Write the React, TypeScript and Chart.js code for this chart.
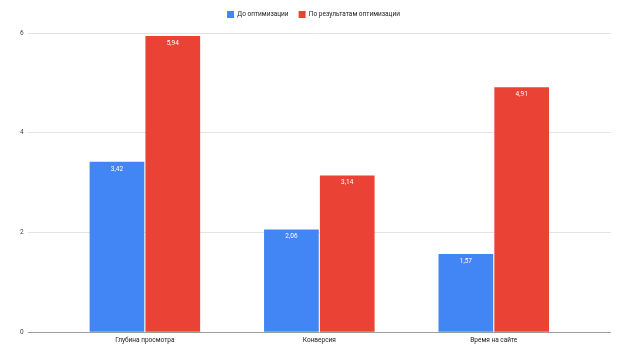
import React, { useEffect, useRef } from "react";
import { Chart, registerables } from "chart.js";

Chart.register(...registerables);

const categories = ["Глубина просмотра", "Конверсия", "Время на сайте"];
const beforeValues = [3.42, 2.06, 1.57];
const afterValues = [5.94, 3.14, 4.91];
const seriesNames = ["До оптимизации", "По результатам оптимизации"];
const yTicks = [0, 2, 4, 6];

const FONT = "Roboto, Arial, sans-serif";

const labelPlugin = {
  id: "barLabels",
  afterDatasetsDraw(chart: any) {
    const ctx = chart.ctx;
    ctx.save();
    ctx.fillStyle = "#ffffff";
    ctx.font = `6.5px ${FONT}`;
    ctx.textAlign = "center";
    ctx.textBaseline = "top";
    chart.data.datasets.forEach((ds: any, i: number) => {
      const meta = chart.getDatasetMeta(i);
      meta.data.forEach((bar: any, j: number) => {
        const v = ds.data[j] as number;
        ctx.fillText(v.toFixed(2).replace(".", ","), bar.x, bar.y + 4);
      });
    });
    ctx.restore();
  },
};

const legendMargin = {
  id: "legendMargin",
  beforeInit(chart: any) {
    const legend = chart.legend;
    if (!legend) return;
    const origFit = legend.fit;
    legend.fit = function () {
      origFit.call(this);
      this.height += 5;
    };
  },
};

const gridColor = (c: any) => (c.tick && c.tick.value === 0 ? "#9e9e9e" : "#e3e3e3");

export default function App() {
  const ref = useRef<HTMLCanvasElement>(null);
  useEffect(() => {
    if (!ref.current) return;
    const chart = new Chart(ref.current, {
      type: "bar",
      data: {
        labels: categories,
        datasets: [
          {
            label: seriesNames[0],
            data: beforeValues,
            backgroundColor: "#4285F4",
            barPercentage: 0.98,
            categoryPercentage: 0.64,
          },
          {
            label: seriesNames[1],
            data: afterValues,
            backgroundColor: "#EA4335",
            barPercentage: 0.98,
            categoryPercentage: 0.64,
          },
        ],
      },
      options: {
        animation: false,
        responsive: false,
        maintainAspectRatio: false,
        layout: { padding: { left: 16, right: 15, top: 1, bottom: 8 } },
        plugins: {
          legend: {
            position: "top",
            align: "center",
            labels: {
              boxWidth: 7,
              boxHeight: 7,
              padding: 10,
              color: "#222",
              font: { family: FONT, size: 6.5 },
            },
          },
          tooltip: { enabled: false },
        },
        scales: {
          x: {
            grid: { display: false, drawTicks: false },
            border: { display: false },
            ticks: { color: "#222", font: { family: FONT, size: 6.5 }, padding: 4 },
          },
          y: {
            min: 0,
            max: 6,
            afterBuildTicks: (axis: any) => {
              axis.ticks = yTicks.map((v) => ({ value: v }));
            },
            grid: { color: gridColor, drawTicks: true, tickLength: 30 },
            border: { display: false },
            ticks: { color: "#444", font: { family: FONT, size: 6.5 }, padding: 4 },
          },
          yRight: {
            position: "right",
            min: 0,
            max: 6,
            afterBuildTicks: (axis: any) => {
              axis.ticks = yTicks.map((v) => ({ value: v }));
            },
            grid: { color: gridColor, drawTicks: true, tickLength: 30, drawOnChartArea: false },
            border: { display: false },
            ticks: { display: false },
          },
        },
      },
      plugins: [labelPlugin, legendMargin],
    });
    return () => chart.destroy();
  }, []);
  return (
    <div style={{ position: "absolute", left: 0, top: 0, width: 626, height: 356, background: "#fff" }}>
      <canvas ref={ref} width={626} height={356} />
    </div>
  );
}
